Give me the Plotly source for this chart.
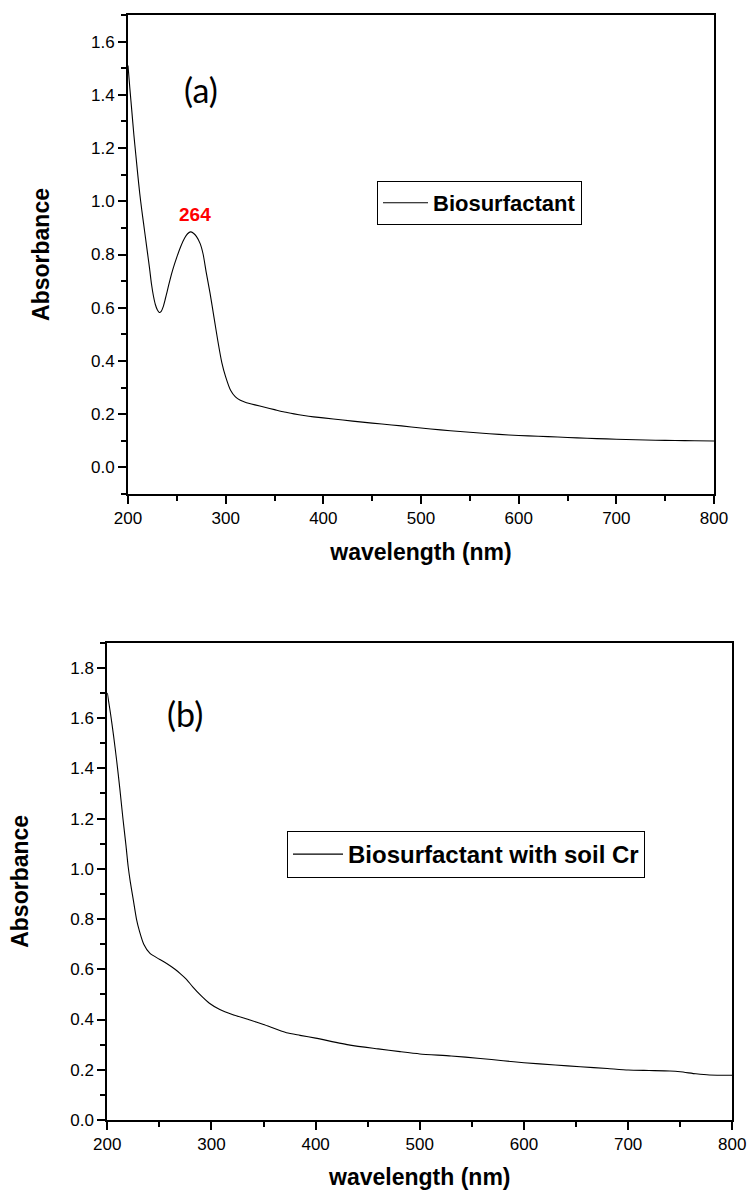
import plotly.graph_objects as go

# ---- data (a): Biosurfactant ----
wl_a = [200, 202, 204, 206, 208, 210, 212, 214, 216, 218, 220, 222, 224, 226, 228, 230, 232, 234, 236, 238,
        240, 243, 246, 250, 254, 258, 261, 264, 267, 270, 274, 277, 280, 284, 288, 292, 296, 300, 305, 310,
        315, 320, 330, 340, 350, 360, 370, 380, 390, 400, 420, 440, 460, 480, 500, 520, 540, 560, 580, 600,
        620, 640, 660, 680, 700, 720, 740, 760, 780, 800]
abs_a = [1.51, 1.42, 1.335, 1.25, 1.175, 1.10, 1.03, 0.97, 0.915, 0.86, 0.805, 0.75, 0.69, 0.645, 0.612, 0.592, 0.582, 0.586, 0.603, 0.63,
         0.66, 0.705, 0.745, 0.79, 0.83, 0.862, 0.878, 0.885, 0.88, 0.868, 0.84, 0.80, 0.735, 0.655, 0.565, 0.475, 0.395, 0.34, 0.29, 0.265,
         0.252, 0.245, 0.235, 0.226, 0.217, 0.208, 0.201, 0.195, 0.190, 0.186, 0.178, 0.170, 0.163, 0.156, 0.148, 0.141, 0.135, 0.129, 0.124, 0.120,
         0.117, 0.114, 0.111, 0.108, 0.106, 0.104, 0.102, 0.101, 0.100, 0.099]

# ---- data (b): Biosurfactant with soil Cr ----
wl_b = [200, 203, 206, 209, 212, 215, 218, 220, 222, 225, 228, 231, 235, 241, 250, 257, 265, 270, 276, 282,
        290, 298, 308, 320, 337, 350, 372, 385, 400, 433, 460, 481, 500, 530, 558, 580, 600, 630, 654, 680,
        700, 720, 740, 750, 765, 778, 800]
abs_b = [1.70, 1.62, 1.53, 1.43, 1.32, 1.20, 1.09, 1.01, 0.95, 0.875, 0.80, 0.75, 0.70, 0.663, 0.64, 0.623, 0.60, 0.583, 0.56, 0.53,
         0.495, 0.465, 0.44, 0.42, 0.398, 0.38, 0.347, 0.337, 0.326, 0.298, 0.283, 0.272, 0.263, 0.255, 0.245, 0.236, 0.228, 0.219, 0.212, 0.205,
         0.199, 0.197, 0.195, 0.192, 0.184, 0.179, 0.178]

name_a = "Biosurfactant"
name_b = "Biosurfactant with soil Cr"
peak_label = "264"
peak_wl = 264

W, H = 750, 1190
AX = "Liberation Sans, Arial, sans-serif"

def dx(px):
    return px / W

def dy(py):
    return 1 - py / H

fig = go.Figure()
fig.add_trace(go.Scatter(x=wl_a, y=abs_a, mode="lines", name="<b>" + name_a + "</b>",
                         line=dict(color="black", width=1.1, shape="spline", smoothing=0.6),
                         xaxis="x", yaxis="y", legend="legend"))
fig.add_trace(go.Scatter(x=wl_b, y=abs_b, mode="lines", name="<b>" + name_b + "</b>",
                         line=dict(color="black", width=1.1, shape="spline", smoothing=0.6),
                         xaxis="x2", yaxis="y2", legend="legend2"))

def xax(domain, anchor, rng, standoff):
    return dict(domain=domain, anchor=anchor, range=rng, dtick=100, tick0=200, automargin=False,
                showline=True, linecolor="black", linewidth=1.8, mirror=True,
                ticks="outside", ticklen=8, tickwidth=1.5, tickcolor="black",
                minor=dict(dtick=50, ticks="outside", ticklen=5, tickwidth=1.5, tickcolor="black"),
                showgrid=False, zeroline=False,
                tickfont=dict(family=AX, size=17, color="black"),
                title=dict(text="<b>wavelength (nm)</b>", font=dict(family=AX, size=23, color="black"), standoff=standoff))

def yax(domain, anchor, rng, standoff):
    return dict(domain=domain, anchor=anchor, range=rng, dtick=0.2, tick0=0, tickformat=".1f", automargin=False,
                showline=True, linecolor="black", linewidth=1.8, mirror=True,
                ticks="outside", ticklen=8, tickwidth=1.5, tickcolor="black",
                minor=dict(dtick=0.1, ticks="outside", ticklen=5, tickwidth=1.5, tickcolor="black"),
                showgrid=False, zeroline=False,
                tickfont=dict(family=AX, size=17, color="black"),
                title=dict(text="<b>Absorbance</b>", font=dict(family=AX, size=23, color="black"), standoff=standoff))

fig.update_layout(
    width=W, height=H,
    margin=dict(l=0, r=0, t=0, b=0),
    paper_bgcolor="white", plot_bgcolor="white",
    xaxis=xax([dx(128), dx(714)], "y", [200, 800], 17),
    yaxis=yax([dy(494), dy(15)], "x", [-0.1, 1.7], 35),
    xaxis2=xax([dx(107.3), dx(732.3)], "y2", [200, 800], 16),
    yaxis2=yax([dy(1120), dy(642.7)], "x2", [0, 1.9], 35),
    legend=dict(x=dx(377), y=dy(181), xanchor="left", yanchor="top",
                bordercolor="black", borderwidth=1, bgcolor="white",
                itemwidth=45, tracegroupgap=0,
                font=dict(family=AX, size=22, color="black"),
                itemclick=False),
    legend2=dict(x=dx(287), y=dy(831), xanchor="left", yanchor="top",
                 bordercolor="black", borderwidth=1, bgcolor="white",
                 itemwidth=50, tracegroupgap=0,
                 font=dict(family=AX, size=24, color="black"),
                 itemclick=False),
    showlegend=True,
)

fig.add_annotation(x=peak_wl, y=0.952, xref="x", yref="y", text="<b>" + peak_label + "</b>",
                   showarrow=False, xshift=4, font=dict(family=AX, size=19, color="red"))
fig.add_annotation(x=275, y=1.42, xref="x", yref="y", text="(a)", showarrow=False,
                   font=dict(family="Lato, sans-serif", size=34, color="black"))
fig.add_annotation(x=274.6, y=1.618, xref="x2", yref="y2", text="(b)", showarrow=False,
                   font=dict(family="Lato, sans-serif", size=34, color="black"))

fig.write_html("out.html", config={"displayModeBar": False},
               post_script="document.body.style.margin='0';document.body.style.overflow='hidden';")
